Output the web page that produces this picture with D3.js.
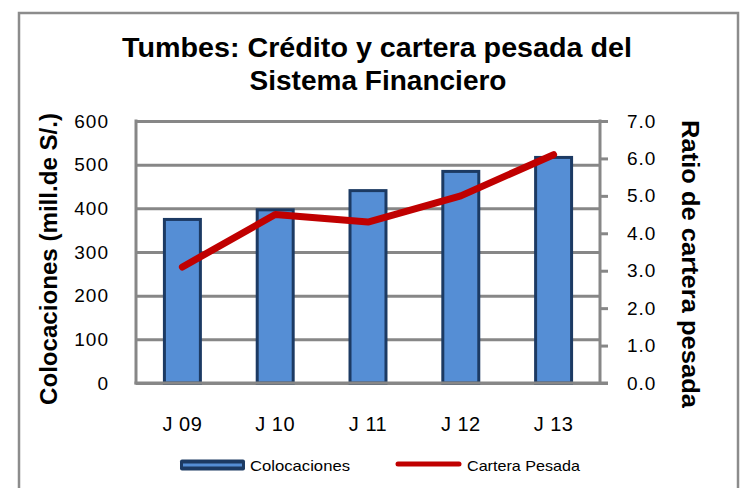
<!DOCTYPE html>
<html>
<head>
<meta charset="utf-8">
<script src="https://cdn.jsdelivr.net/npm/d3@7"></script>
<style>
  body { margin: 0; background: #fff; }
  text { font-family: "Liberation Sans", Arial, sans-serif; }
</style>
</head>
<body>
<div id="chart"></div>
<script>
// data
const categories = ["J 09", "J 10", "J 11", "J 12", "J 13"];
const colocaciones = [378, 400, 444, 488, 520];   // mill. de S/.
const carteraPesada = [3.1, 4.5, 4.3, 5.0, 6.1];  // ratio
const leftTicks = [0, 100, 200, 300, 400, 500, 600];
const rightTicks = [0, 1, 2, 3, 4, 5, 6, 7];

const W = 742, H = 488;
const plot = { left: 136, right: 600, top: 121, bottom: 383 };
const gridColor = "#878787";

const svg = d3.select("#chart").append("svg")
  .attr("width", W)
  .attr("height", H);

/* outer frame */
svg.append("rect")
  .attr("x", 19).attr("y", 13)
  .attr("width", 719).attr("height", 500)
  .attr("fill", "#fff")
  .attr("stroke", "#8c8c8c")
  .attr("stroke-width", 2.5);

/* scales */
const x = d3.scaleBand().domain(categories).range([plot.left, plot.right]).padding(0);
const y = d3.scaleLinear().domain([0, 600]).range([plot.bottom, plot.top]);
const y2 = d3.scaleLinear().domain([0, 7]).range([plot.bottom, plot.top]);

/* left axis + gridlines */
const gLeft = svg.append("g")
  .attr("transform", `translate(${plot.left},0)`)
  .call(d3.axisLeft(y).tickValues(leftTicks).tickSize(-(plot.right - plot.left)).tickPadding(27));
gLeft.select(".domain").remove();
gLeft.selectAll(".tick line").attr("stroke", gridColor).attr("stroke-width", 3);
gLeft.selectAll(".tick text")
  .style("font-size", "19px").style("letter-spacing", "1px").attr("fill", "#000");

/* left axis line */
svg.append("line")
  .attr("x1", plot.left).attr("x2", plot.left)
  .attr("y1", plot.top - 1.5).attr("y2", plot.bottom + 1.5)
  .attr("stroke", gridColor).attr("stroke-width", 3);

/* bars */
const barW = x.bandwidth() * 0.42;
svg.append("g").selectAll("rect")
  .data(colocaciones)
  .join("rect")
  .attr("x", (d, i) => x(categories[i]) + (x.bandwidth() - barW) / 2 + 1.5)
  .attr("y", d => y(d) + 1.5)
  .attr("width", barW - 3)
  .attr("height", d => y(0) - y(d) - 1.5)
  .attr("fill", "#558ed5")
  .attr("stroke", "#1c3a63")
  .attr("stroke-width", 3);

/* bottom axis */
const gBottom = svg.append("g")
  .attr("transform", `translate(0,${plot.bottom})`)
  .call(d3.axisBottom(x).tickSize(0).tickPadding(34));
gBottom.select(".domain").remove();
gBottom.selectAll(".tick text")
  .style("font-size", "20px").style("letter-spacing", "0.5px").attr("fill", "#000");

svg.append("line")
  .attr("x1", plot.left - 1.5).attr("x2", plot.right + 8)
  .attr("y1", plot.bottom).attr("y2", plot.bottom)
  .attr("stroke", gridColor).attr("stroke-width", 3);

/* right axis */
const gRight = svg.append("g")
  .attr("transform", `translate(${plot.right},0)`)
  .call(d3.axisRight(y2).tickValues(rightTicks).tickSize(8).tickPadding(19).tickFormat(d3.format(".1f")));
gRight.select(".domain")
  .attr("d", `M0,${plot.top - 1.5}V${plot.bottom + 1.5}`)
  .attr("stroke", gridColor).attr("stroke-width", 3);
gRight.selectAll(".tick line").attr("stroke", gridColor).attr("stroke-width", 3);
gRight.selectAll(".tick text")
  .style("font-size", "19px").style("letter-spacing", "1px").attr("fill", "#000");

/* line */
const line = d3.line()
  .x((d, i) => x(categories[i]) + x.bandwidth() / 2)
  .y(d => y2(d));
svg.append("path")
  .datum(carteraPesada)
  .attr("d", line)
  .attr("fill", "none")
  .attr("stroke", "#c00000")
  .attr("stroke-width", 7)
  .attr("stroke-linecap", "round")
  .attr("stroke-linejoin", "round");

/* title */
const title = svg.append("g").style("font-weight", "bold").style("font-size", "28px");
title.append("text")
  .attr("x", 377).attr("y", 57)
  .attr("text-anchor", "middle")
  .attr("textLength", 510).attr("lengthAdjust", "spacingAndGlyphs")
  .text("Tumbes: Crédito y cartera pesada del");
title.append("text")
  .attr("x", 378).attr("y", 90)
  .attr("text-anchor", "middle")
  .attr("textLength", 257).attr("lengthAdjust", "spacingAndGlyphs")
  .text("Sistema Financiero");

/* axis titles */
svg.append("text")
  .attr("transform", "translate(57,259) rotate(-90)")
  .attr("text-anchor", "middle")
  .style("font-weight", "bold").style("font-size", "23px")
  .attr("textLength", 292).attr("lengthAdjust", "spacingAndGlyphs")
  .text("Colocaciones (mill.de S/.)");

svg.append("text")
  .attr("transform", "translate(682,264) rotate(90)")
  .attr("text-anchor", "middle")
  .style("font-weight", "bold").style("font-size", "23px")
  .attr("textLength", 288).attr("lengthAdjust", "spacingAndGlyphs")
  .text("Ratio de cartera pesada");

/* legend */
const legend = svg.append("g");
legend.append("rect")
  .attr("x", 180).attr("y", 459.5)
  .attr("width", 65).attr("height", 11).attr("rx", 2)
  .attr("fill", "#1c3a63");
legend.append("line")
  .attr("x1", 183).attr("x2", 242)
  .attr("y1", 465).attr("y2", 465)
  .attr("stroke", "#558ed5").attr("stroke-width", 3);
legend.append("text")
  .attr("x", 250).attr("y", 471)
  .style("font-size", "15px")
  .attr("textLength", 100).attr("lengthAdjust", "spacingAndGlyphs")
  .text("Colocaciones");
legend.append("line")
  .attr("x1", 398).attr("x2", 459)
  .attr("y1", 464).attr("y2", 464)
  .attr("stroke", "#c00000").attr("stroke-width", 5)
  .attr("stroke-linecap", "round");
legend.append("text")
  .attr("x", 467).attr("y", 471)
  .style("font-size", "15px")
  .attr("textLength", 113).attr("lengthAdjust", "spacingAndGlyphs")
  .text("Cartera Pesada");
</script>
</body>
</html>
